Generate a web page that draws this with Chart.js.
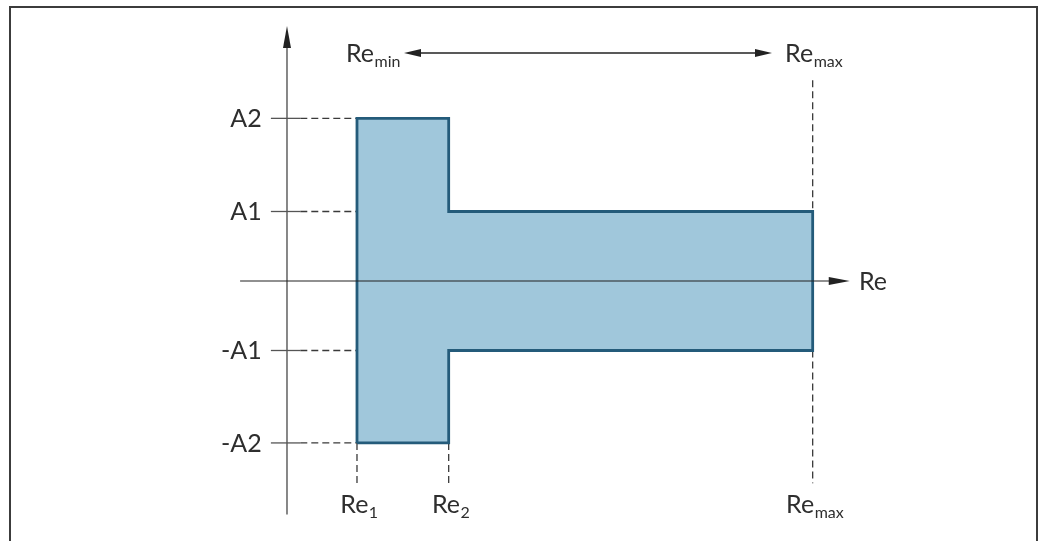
<!DOCTYPE html>
<html>
<head>
<meta charset="utf-8">
<script src="https://cdn.jsdelivr.net/npm/chart.js@4.4.1/dist/chart.umd.min.js"></script>
<style>
  html, body { margin: 0; padding: 0; background: #fff; }
  #chart { display: block; }
</style>
</head>
<body>
<canvas id="chart" width="1038" height="541"></canvas>
<script>
// Reynolds number positions (arbitrary units) and amplitude limits
const reNames = ["Re1", "Re2", "Remax"];
const reValues = [1.0, 2.31, 7.51];
const ampNames = ["A2", "A1", "-A1", "-A2"];
const ampValues = [2.34, 1.0, -1.0, -2.33];

const re1 = reValues[0], re2 = reValues[1], reMax = reValues[2];
const a2 = ampValues[0], a1 = ampValues[1], na1 = ampValues[2], na2 = ampValues[3];

// T shaped window, closed path
const shape = [
  { x: re1, y: na2 }, { x: re1, y: a2 }, { x: re2, y: a2 }, { x: re2, y: a1 },
  { x: reMax, y: a1 }, { x: reMax, y: na1 }, { x: re2, y: na1 }, { x: re2, y: na2 },
  { x: re1, y: na2 }
];

const FONT = "Lato";
const TXT = "#2e2e2e";
const DASH = "#3a3a3a";

function dashed(points) {
  return {
    type: "line", data: points, showLine: true, fill: false,
    borderColor: DASH, borderWidth: 1.3, borderDash: [7, 4],
    pointRadius: 0, tension: 0, order: 2
  };
}

// guide lines from the axis ticks to the shape
const tickEnd = 0.19;
const guideBottom = -2.91;
const guideTop = 2.89;

const datasets = [
  {
    type: "line", data: shape, showLine: true, fill: "shape",
    backgroundColor: "#a0c7db", borderColor: "#245b7a", borderWidth: 2.8,
    pointRadius: 0, tension: 0, order: 1
  },
  dashed([{ x: tickEnd, y: a2 }, { x: re1, y: a2 }]),
  dashed([{ x: tickEnd, y: a1 }, { x: re2, y: a1 }]),
  dashed([{ x: tickEnd, y: na1 }, { x: re2, y: na1 }]),
  dashed([{ x: tickEnd, y: na2 }, { x: re1, y: na2 }]),
  dashed([{ x: re1, y: na2 }, { x: re1, y: guideBottom }]),
  dashed([{ x: re2, y: na2 }, { x: re2, y: guideBottom }]),
  dashed([{ x: reMax, y: guideTop }, { x: reMax, y: a1 }]),
  dashed([{ x: reMax, y: na1 }, { x: reMax, y: guideBottom }])
];

function arrowHead(ctx, x, y, dir, len, half) {
  ctx.save();
  ctx.translate(x, y);
  ctx.rotate(dir);
  ctx.beginPath();
  ctx.moveTo(0, 0);
  ctx.lineTo(-len, -half);
  ctx.lineTo(-len, half);
  ctx.closePath();
  ctx.fill();
  ctx.restore();
}

// "Re" with subscript, centred on x or starting at x
function reText(ctx, x, base, sub, align) {
  ctx.font = "25px " + FONT;
  const w1 = ctx.measureText("Re").width;
  ctx.font = "16px " + FONT;
  const w2 = ctx.measureText(sub).width;
  let left = x;
  if (align === "center") left = x - (w1 + w2) / 2;
  ctx.textAlign = "left";
  ctx.textBaseline = "alphabetic";
  ctx.font = "25px " + FONT;
  ctx.fillText("Re", left, base);
  ctx.font = "16px " + FONT;
  ctx.fillText(sub, left + w1 + 0.5, base + 5);
}

const drawing = {
  id: "drawing",
  afterDatasetsDraw(chart) {
    const ctx = chart.ctx;
    const xs = chart.scales.x, ys = chart.scales.y;
    const px = v => xs.getPixelForValue(v);
    const py = v => ys.getPixelForValue(v);

    // frame
    ctx.save();
    ctx.strokeStyle = "#3c3c3c";
    ctx.lineWidth = 2;
    ctx.beginPath();
    ctx.moveTo(10, 545);
    ctx.lineTo(10, 7);
    ctx.lineTo(1037, 7);
    ctx.lineTo(1037, 545);
    ctx.stroke();

    // y axis
    ctx.strokeStyle = "#555";
    ctx.fillStyle = "#222";
    ctx.lineWidth = 1.4;
    ctx.beginPath();
    ctx.moveTo(px(0), py(-3.36));
    ctx.lineTo(px(0), py(3.4));
    ctx.stroke();
    arrowHead(ctx, px(0), py(3.67), -Math.PI / 2, 22, 4);

    // x axis
    ctx.strokeStyle = "#222";
    ctx.lineWidth = 1.2;
    ctx.beginPath();
    ctx.moveTo(px(-0.67), py(0));
    ctx.lineTo(px(7.8), py(0));
    ctx.stroke();
    arrowHead(ctx, px(8.04), py(0), 0, 21, 4);

    // solid tick stubs on the y axis
    ctx.strokeStyle = "#555";
    ctx.lineWidth = 1.3;
    ampValues.forEach(v => {
      ctx.beginPath();
      ctx.moveTo(px(-0.23), py(v));
      ctx.lineTo(px(tickEnd), py(v));
      ctx.stroke();
    });

    // amplitude labels
    ctx.fillStyle = TXT;
    ctx.font = "25px " + FONT;
    ctx.textAlign = "right";
    ctx.textBaseline = "alphabetic";
    ampNames.forEach((n, i) => {
      ctx.fillText(n, px(-0.36), py(ampValues[i]) + 9);
    });

    // Re labels on the bottom
    const subs = ["1", "2", "max"];
    reValues.forEach((v, i) => {
      reText(ctx, px(v) + 2, 513, subs[i], "center");
    });

    // x axis label
    ctx.font = "25px " + FONT;
    ctx.textAlign = "left";
    ctx.fillText("Re", px(8.17), py(0) + 9);

    // Re range arrow on top
    const topY = 53;
    reText(ctx, 346, 62, "min", "left");
    reText(ctx, px(reMax) + 1, 62, "max", "center");
    ctx.strokeStyle = "#222";
    ctx.fillStyle = "#222";
    ctx.lineWidth = 1.3;
    ctx.beginPath();
    ctx.moveTo(415, topY);
    ctx.lineTo(762, topY);
    ctx.stroke();
    arrowHead(ctx, 404, topY, Math.PI, 17, 4);
    arrowHead(ctx, 772, topY, 0, 17, 4);
    ctx.restore();
  }
};

new Chart(document.getElementById("chart"), {
  type: "scatter",
  data: { datasets: datasets },
  options: {
    responsive: false,
    animation: false,
    devicePixelRatio: 1,
    layout: { padding: 0 },
    plugins: { legend: { display: false }, tooltip: { enabled: false } },
    scales: {
      x: { type: "linear", display: false, min: -4.1, max: 10.729 },
      y: { type: "linear", display: false, min: -3.741, max: 4.043 }
    }
  },
  plugins: [drawing]
});
</script>
</body>
</html>
